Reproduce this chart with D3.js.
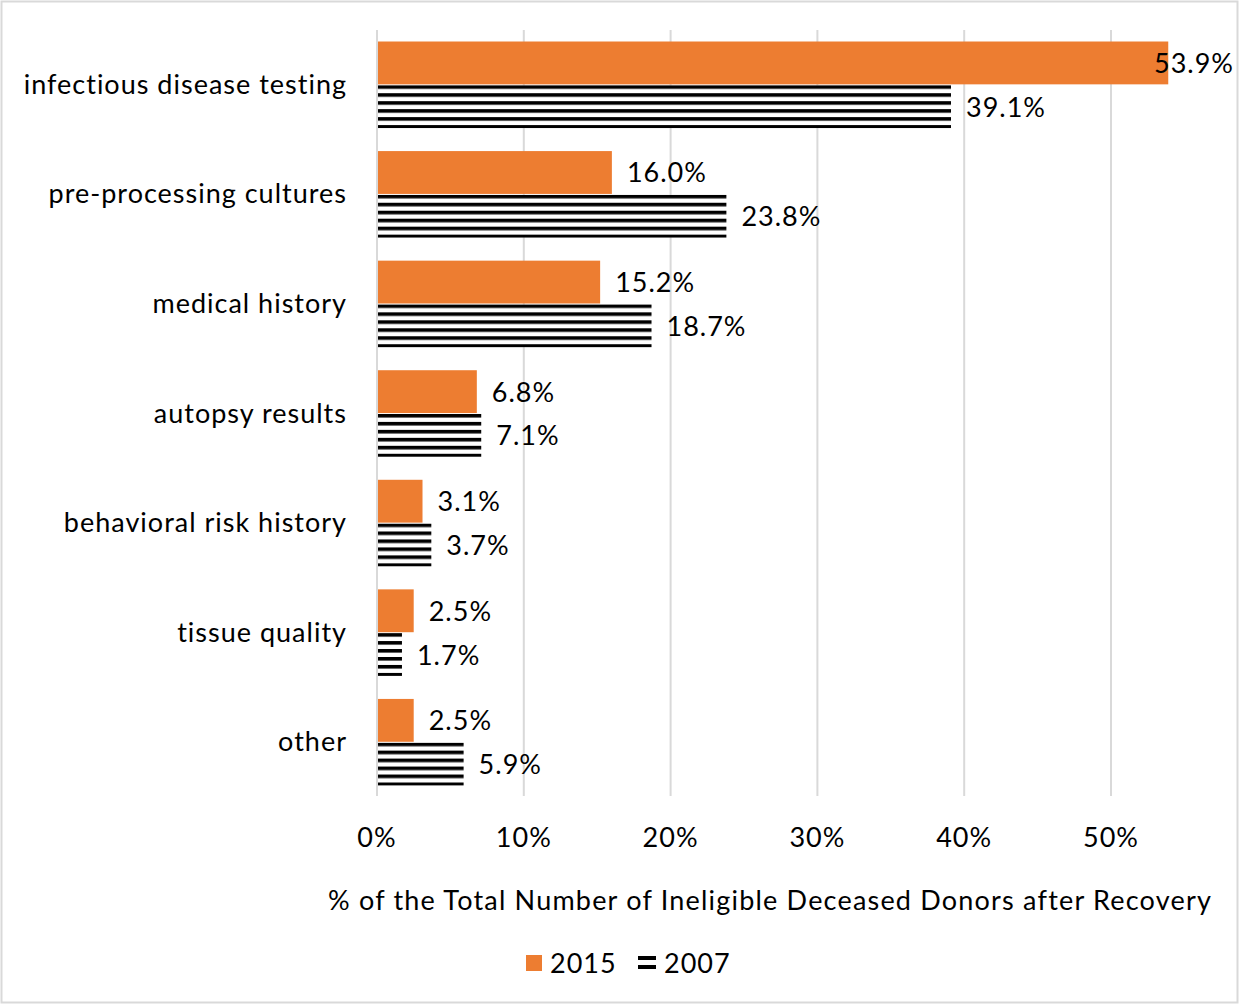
<!DOCTYPE html>
<html>
<head>
<meta charset="utf-8">
<script src="https://cdn.jsdelivr.net/npm/d3@7"></script>
<style>
  body { margin: 0; background: #fff; }
  svg text { font-family: Lato, "Open Sans", sans-serif; fill: #000; letter-spacing: 1px; }
</style>
</head>
<body>
<div id="chart"></div>
<script>
// chart data
const categories = ["infectious disease testing", "pre-processing cultures", "medical history",
  "autopsy results", "behavioral risk history", "tissue quality", "other"];
const values2015 = [53.9, 16.0, 15.2, 6.8, 3.1, 2.5, 2.5];
const values2007 = [39.1, 23.8, 18.7, 7.1, 3.7, 1.7, 5.9];
const seriesNames = ["2015", "2007"];
const xTicks = [0, 10, 20, 30, 40, 50];
const axisTitle = "% of the Total Number of Ineligible Deceased Donors after Recovery";

const width = 1241, height = 1005;
const orange = "#ed7d31";

const svg = d3.select("#chart").append("svg")
    .attr("width", width)
    .attr("height", height);

// stripe pattern for the 2007 bars, tiled from the top of each bar
const defs = svg.append("defs");
const pat = defs.append("pattern")
    .attr("id", "stripes")
    .attr("patternUnits", "objectBoundingBox")
    .attr("width", 1).attr("height", 8 / 43);
pat.append("rect").attr("width", 2000).attr("height", 8).attr("fill", "#fff");
pat.append("rect").attr("y", 0).attr("width", 2000).attr("height", 3.6).attr("fill", "#000");

// outer border
svg.append("rect")
    .attr("x", 1.5).attr("y", 1.5)
    .attr("width", width - 5).attr("height", height - 4)
    .attr("fill", "none")
    .attr("stroke", "#d9d9d9")
    .attr("stroke-width", 2);

const x = d3.scaleLinear().domain([0, 50]).range([377, 1111]);
const y = d3.scaleBand().domain(categories).range([30, 797])
    .paddingInner(0.21).paddingOuter(0.105);
const ySub = d3.scaleBand().domain(seriesNames).range([0, y.bandwidth()]).paddingInner(0.02);

// gridlines
svg.append("g").selectAll("line")
  .data(xTicks)
  .enter()
  .append("line")
  .attr("x1", d => x(d)).attr("x2", d => x(d))
  .attr("y1", 30).attr("y2", 796)
  .attr("stroke", "#d9d9d9")
  .attr("stroke-width", 2);

// x tick labels
svg.append("g").selectAll("text")
  .data(xTicks)
  .enter()
  .append("text")
  .attr("x", d => x(d))
  .attr("y", 847)
  .attr("text-anchor", "middle")
  .style("font-size", "27px")
  .text(d => d + "%");

// category labels
svg.append("g").selectAll("text")
  .data(categories)
  .enter()
  .append("text")
  .attr("x", 347)
  .attr("y", d => y(d) + y.bandwidth() / 2 + 9)
  .attr("text-anchor", "end")
  .style("font-size", "27px")
  .text(d => d);

const rows = categories.map((c, i) => ({cat: c, v2015: values2015[i], v2007: values2007[i]}));
const plotRight = 1234;

function drawSeries(key, series, fill) {
  const g = svg.append("g");
  g.selectAll("rect")
    .data(rows)
    .enter()
    .append("rect")
    .attr("x", x(0))
    .attr("y", d => y(d.cat) + ySub(series))
    .attr("width", d => x(d[key]) - x(0))
    .attr("height", ySub.bandwidth())
    .attr("fill", fill);

  g.selectAll("text")
    .data(rows)
    .enter()
    .append("text")
    .attr("y", d => y(d.cat) + ySub(series) + ySub.bandwidth() / 2 + 10)
    .style("font-size", "27px")
    .text(d => d[key].toFixed(1) + "%")
    .attr("x", function(d) {
      const w = this.getComputedTextLength();
      return Math.min(x(d[key]) + 15, plotRight - w);
    });
}

drawSeries("v2015", "2015", orange);
drawSeries("v2007", "2007", "url(#stripes)");

// axis line on top of bars
svg.append("line")
  .attr("x1", x(0)).attr("x2", x(0))
  .attr("y1", 30).attr("y2", 796)
  .attr("stroke", "#d9d9d9")
  .attr("stroke-width", 2);

// axis title
svg.append("text")
  .attr("x", 770)
  .attr("y", 910)
  .attr("text-anchor", "middle")
  .style("font-size", "27px")
  .style("letter-spacing", "1.2px")
  .text(axisTitle);

// legend
const legend = svg.append("g");
legend.append("rect")
  .attr("x", 526).attr("y", 955).attr("width", 16).attr("height", 16)
  .attr("fill", orange);
legend.append("text")
  .attr("x", 550).attr("y", 973)
  .style("font-size", "27px")
  .text(seriesNames[0]);
legend.append("rect")
  .attr("x", 638).attr("y", 956).attr("width", 18).attr("height", 4).attr("fill", "#000");
legend.append("rect")
  .attr("x", 638).attr("y", 965).attr("width", 18).attr("height", 4).attr("fill", "#000");
legend.append("text")
  .attr("x", 664).attr("y", 973)
  .style("font-size", "27px")
  .text(seriesNames[1]);
</script>
</body>
</html>
